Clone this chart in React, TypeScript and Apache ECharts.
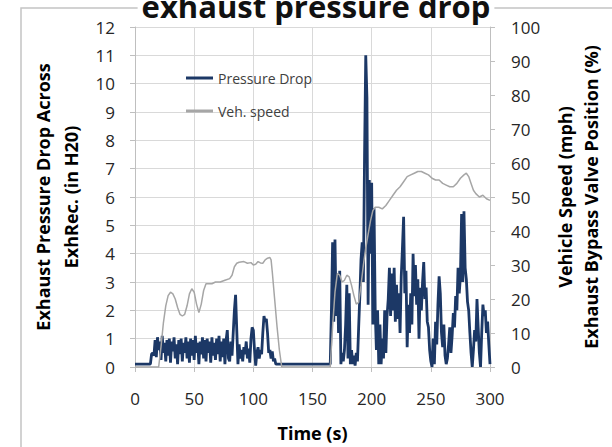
import { useEffect, useRef } from "react";
import * as echarts from "echarts";

// ---- data ----
const titleText = "exhaust pressure drop";
const xTickMax = 300;
const leftAxisMax = 12;
const rightAxisMax = 100;

// Pressure drop (in H2O): idle stretches and sampled bursts (1 s samples)
const pdIdleA: [number, number][] = [[0, 0.1], [13, 0.1]];
const pdBurstAStart = 14;
const pdBurstA = [
  0.45, 0.5, 0.4, 0.95, 0.35, 1.05, 0.6, 0.9, 0.25, 1.1,
  0.5, 0.85, 0.2, 0.95, 0.4, 1.0, 0.15, 0.9, 0.55, 1.05,
  0.3, 0.8, 0.1, 0.95, 0.45, 1.0, 0.2, 0.85, 0.5, 1.05,
  0.3, 0.9, 0.15, 1.0, 0.4, 0.95, 0.25, 1.1, 0.5, 0.85,
  0.1, 0.9, 0.45, 1.05, 0.3, 0.95, 0.2, 1.0, 0.5, 0.9,
  0.15, 1.05, 0.4, 0.85, 0.25, 1.0, 0.45, 1.1, 0.2, 0.9,
  0.35, 1.0, 0.1, 0.95, 1.3, 0.3, 0.2, 0.9, 0.4, 1.2,
  2.0, 2.55, 1.3, 0.1, 0.8, 0.3, 0.6, 0.2, 0.7, 0.45,
  0.9, 0.3, 0.65, 0.15, 1.0, 1.4, 1.3, 0.6, 0.05, 0.5,
  0.7, 0.3, 0.6, 0.45, 1.2, 1.8, 1.6, 1.7, 1.2, 0.5,
  0.6, 0.3, 0.55, 0.2, 0.3, 0.1, 0.1,
];
const pdIdleB: [number, number][] = [[121, 0.1], [164, 0.1]];
const pdBurstBStart = 165;
const pdBurstB = [
  0.1, 2.0, 4.4, 1.6, 4.5, 1.8, 3.3, 1.2, 3.4, 0.1,
  0.5, 0.2, 0.6, 1.5, 2.9, 0.3, 2.6, 0.1, 0.6, 0.1,
  0.4, 0.05, 0.5, 0.2, 1.4, 2.5, 3.8, 4.4, 3.0, 7.5,
  11.0, 9.5, 2.2, 6.6, 4.0, 6.5, 1.5, 5.6, 2.0, 0.6,
  2.0, 0.1, 1.5, 0.1, 1.0, 0.3, 2.0, 0.5, 1.8, 2.4,
  3.5, 1.8, 3.3, 2.0, 3.5, 1.6, 2.9, 1.7, 2.6, 1.2,
  3.2, 4.2, 5.3, 2.6, 3.4, 0.7, 2.2, 1.2, 2.6, 1.5,
  4.0, 2.5, 3.6, 2.2, 3.1, 1.0, 2.8, 2.0, 3.0, 3.7,
  2.4, 2.8, 1.6, 1.4, 0.6, 0.2, 0.0, 1.0, 0.1, 1.6,
  0.8, 2.2, 3.2, 2.6, 1.2, 0.7, 1.5, 0.4, 0.1, 0.3,
  0.8, 1.4, 0.5, 1.1, 1.9, 1.4, 2.5, 2.0, 3.5, 2.6,
  3.2, 5.4, 3.0, 5.5, 3.5, 3.1, 2.3, 2.0, 1.2, 0.5,
  0.0, 0.6, 1.3, 0.9, 2.4, 1.4, 0.5, 0.0, 1.2, 2.2,
  1.8, 2.0, 1.2, 1.6, 0.8, 0.1,
];

// Vehicle speed (mph) [time s, mph]
const speedPoints: [number, number][] = [
  [0, 0], [20, 0], [22, 6], [24, 13], [26, 18], [28, 21], [30, 22], [32, 21.5],
  [34, 20], [36, 17.5], [38, 15.5], [40, 15], [42, 15.5], [44, 18], [46, 21.5],
  [48, 23], [50, 22], [52, 18.5], [54, 16], [56, 18.5], [58, 22.5], [60, 24.5],
  [62, 24.5], [65, 24.5], [68, 25], [72, 25], [76, 25.5], [80, 26], [82, 27],
  [84, 29.5], [86, 30.5], [88, 30.8], [92, 31], [95, 30.5], [98, 30.7], [100, 30],
  [102, 30.2], [104, 31], [106, 30.6], [108, 30.5], [110, 31.5], [112, 32],
  [114, 32.2], [115, 31.5], [116, 28], [118, 20], [120, 12], [122, 5], [124, 0],
  [165, 0], [167, 12], [169, 22], [171, 27.5], [173, 27], [175, 25], [177, 25.5],
  [179, 27], [181, 26.5], [183, 24], [185, 21], [187, 18.5], [189, 19], [191, 24],
  [193, 30], [195, 35], [197, 39], [199, 43], [201, 46], [203, 47], [206, 47],
  [209, 46.5], [212, 47.5], [215, 49], [218, 50.5], [221, 52], [224, 53],
  [227, 54.5], [230, 56], [233, 56.5], [236, 57], [239, 57.5], [242, 57.5],
  [245, 57], [248, 56.5], [251, 55.5], [254, 55], [257, 55], [260, 54],
  [263, 53.5], [266, 53], [269, 53], [272, 54], [275, 55.5], [278, 56.5],
  [280, 57], [282, 56], [284, 54], [286, 52], [288, 51], [291, 50], [294, 50.5],
  [297, 49.5], [300, 49],
];

const seriesNames = ["Pressure Drop", "Veh. speed"];
const leftAxisName = "Exhaust Pressure Drop Across\nExhRec. (in H20)";
const rightAxisName = "Vehicle Speed (mph)\nExhaust Bypass Valve Position (%)";
const xAxisName = "Time (s)";

const FONT = '"Open Sans", "DejaVu Sans", sans-serif';
const PD_COLOR = "#1c3866";
const SPEED_COLOR = "#a6a6a6";

function buildPressure(): [number, number][] {
  const out: [number, number][] = [...pdIdleA];
  pdBurstA.forEach((v, i) => out.push([pdBurstAStart + i, v]));
  out.push(...pdIdleB);
  pdBurstB.forEach((v, i) => out.push([pdBurstBStart + i, v]));
  return out;
}

export default function App() {
  const ref = useRef<HTMLDivElement>(null);
  useEffect(() => {
    if (!ref.current) return;
    const chart = echarts.init(ref.current, undefined, { renderer: "svg" });
    const axisColor = "#bfbfbf";
    const gridColor = "#d9d9d9";
    const labelColor = "#262626";
    chart.setOption({
      animation: false,
      backgroundColor: "#fff",
      grid: { left: 135, right: 120, top: 27, bottom: 77 },
      graphic: [
        {
          type: "rect",
          z: -10,
          shape: { x: 21, y: 8, width: 700, height: 700 },
          style: { fill: "none", stroke: "#c4c4c4", lineWidth: 1.5 },
        },
        {
          type: "text",
          z: 100,
          x: 316,
          y: 5.5,
          style: {
            text: titleText,
            font: `bold 31px ${FONT}`,
            fill: "#111",
            align: "center",
            verticalAlign: "middle",
            textAlign: "center",
            textVerticalAlign: "middle",
            backgroundColor: "#fff",
            padding: [0, 4],
          },
        },
      ],
      legend: {
        orient: "vertical",
        left: 181,
        top: 64,
        itemWidth: 27,
        itemHeight: 3,
        itemGap: 15,
        icon: "rect",
        data: [
          { name: seriesNames[0], icon: "rect", itemStyle: { color: PD_COLOR } },
          { name: seriesNames[1], icon: "rect", itemStyle: { color: SPEED_COLOR } },
        ],
        textStyle: { fontSize: 14, lineHeight: 18, fontFamily: FONT, color: "#404040" },
      },
      xAxis: {
        type: "value",
        min: 0,
        max: xTickMax,
        interval: 50,
        name: xAxisName,
        nameLocation: "middle",
        nameGap: 57,
        nameTextStyle: { fontSize: 18, fontWeight: "bold", fontFamily: FONT, color: "#000" },
        axisLine: { show: true, lineStyle: { color: axisColor } },
        axisTick: { show: true, length: 5, lineStyle: { color: axisColor } },
        axisLabel: { fontSize: 17, fontFamily: FONT, color: labelColor, margin: 23 },
        splitLine: { show: true, lineStyle: { color: gridColor } },
      },
      yAxis: [
        {
          type: "value",
          min: 0,
          max: leftAxisMax,
          interval: 1,
          name: leftAxisName,
          nameLocation: "middle",
          nameRotate: 90,
          nameGap: 44,
          nameTextStyle: { fontSize: 18, fontWeight: "bold", fontFamily: FONT, color: "#000", lineHeight: 28 },
          axisLine: { show: true, lineStyle: { color: axisColor } },
          axisTick: { show: true, length: 5, lineStyle: { color: axisColor } },
          axisLabel: { fontSize: 17, fontFamily: FONT, color: labelColor, margin: 20 },
          splitLine: { show: true, lineStyle: { color: gridColor } },
        },
        {
          type: "value",
          position: "right",
          min: 0,
          max: rightAxisMax,
          interval: 10,
          name: rightAxisName,
          nameLocation: "middle",
          nameRotate: 90,
          nameGap: 62,
          nameTextStyle: { fontSize: 18, fontWeight: "bold", fontFamily: FONT, color: "#000", lineHeight: 26 },
          axisLine: { show: true, lineStyle: { color: axisColor } },
          axisTick: { show: true, length: 5, lineStyle: { color: axisColor } },
          axisLabel: { fontSize: 17, fontFamily: FONT, color: labelColor, margin: 21 },
          splitLine: { show: false },
        },
      ],
      series: [
        {
          name: seriesNames[0],
          type: "line",
          yAxisIndex: 0,
          data: buildPressure(),
          symbol: "none",
          lineStyle: { color: PD_COLOR, width: 2.8 },
          itemStyle: { color: PD_COLOR },
        },
        {
          name: seriesNames[1],
          type: "line",
          yAxisIndex: 1,
          data: speedPoints,
          symbol: "none",
          lineStyle: { color: SPEED_COLOR, width: 1.5 },
          itemStyle: { color: SPEED_COLOR },
        },
      ],
    });
    return () => chart.dispose();
  }, []);
  return (
    <div
      ref={ref}
      style={{ position: "fixed", left: 0, top: 0, width: 612, height: 447 }}
    />
  );
}
